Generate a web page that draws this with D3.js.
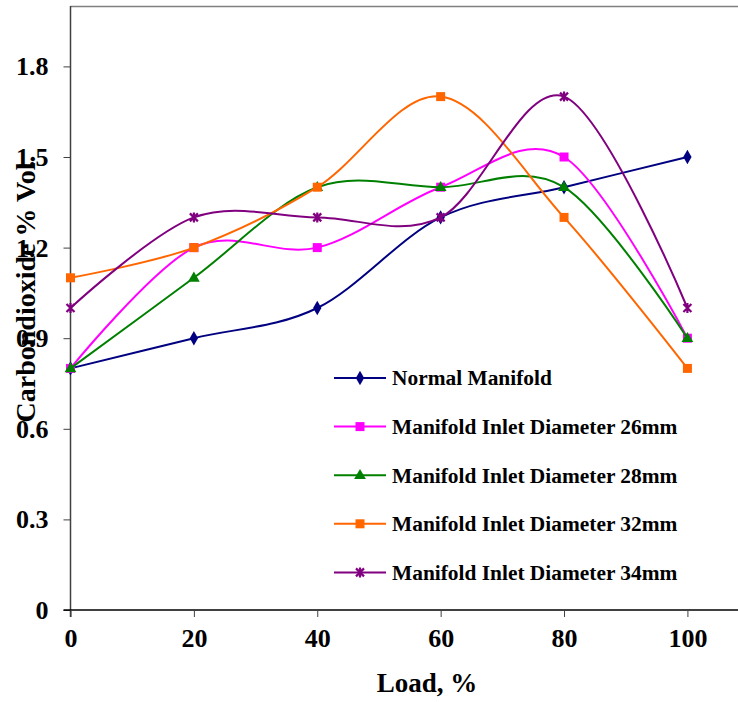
<!DOCTYPE html>
<html>
<head>
<meta charset="utf-8">
<script src="https://cdn.jsdelivr.net/npm/d3@7"></script>
<style>
  html, body { margin: 0; padding: 0; background: #fff; }
  svg { display: block; }
  text { font-family: "Liberation Serif", "DejaVu Serif", serif; font-weight: bold; fill: #000; }
</style>
</head>
<body>
<svg id="chart" width="738" height="702"></svg>
<script>
// Engine load (%) and CO2 emission (% Vol.) for each manifold design
const loads = [0, 20, 40, 60, 80, 100];
const normalManifold = [0.8, 0.9, 1.0, 1.3, 1.4, 1.5];
const inlet26mm = [0.8, 1.2, 1.2, 1.4, 1.5, 0.9];
const inlet28mm = [0.8, 1.1, 1.4, 1.4, 1.4, 0.9];
const inlet32mm = [1.1, 1.2, 1.4, 1.7, 1.3, 0.8];
const inlet34mm = [1.0, 1.3, 1.3, 1.3, 1.7, 1.0];
const xTicks = [0, 20, 40, 60, 80, 100];
const yTicks = [0, 0.3, 0.6, 0.9, 1.2, 1.5, 1.8];
const seriesNames = [
  "Normal Manifold",
  "Manifold Inlet Diameter 26mm",
  "Manifold Inlet Diameter 28mm",
  "Manifold Inlet Diameter 32mm",
  "Manifold Inlet Diameter 34mm"
];

const series = [
  { name: seriesNames[0], values: normalManifold, color: "#000080", marker: "diamond" },
  { name: seriesNames[1], values: inlet26mm, color: "#FF00FF", marker: "square" },
  { name: seriesNames[2], values: inlet28mm, color: "#008000", marker: "triangle" },
  { name: seriesNames[3], values: inlet32mm, color: "#FF6600", marker: "square" },
  { name: seriesNames[4], values: inlet34mm, color: "#800080", marker: "star" }
];

const svg = d3.select("#chart");
const plot = { left: 70.5, right: 738, top: 6, bottom: 610 };

const x = d3.scaleLinear().domain([0, 108.2]).range([plot.left, plot.right]);
const y = d3.scaleLinear().domain([0, 2.0]).range([plot.bottom, plot.top]);

// Plot frame: top border
svg.append("line")
  .attr("x1", plot.left).attr("x2", plot.right)
  .attr("y1", plot.top + 0.5).attr("y2", plot.top + 0.5)
  .attr("stroke", "#808080").attr("stroke-width", 1.5);

// Y axis
const yAxis = d3.axisLeft(y).tickValues(yTicks).tickSize(7).tickPadding(15)
  .tickFormat(d => d === 0 ? "0" : d3.format(".1f")(d));
const gy = svg.append("g").attr("transform", `translate(${plot.left},0)`).call(yAxis);
gy.select(".domain").attr("stroke", "#404040").attr("stroke-width", 1.5)
  .attr("d", `M0,${plot.top}V${plot.bottom + 7}`);
gy.selectAll(".tick line").attr("stroke", "#404040");
gy.selectAll(".tick text").attr("font-size", 26).attr("font-family", "Liberation Serif, serif")
  .attr("font-weight", "bold").attr("dy", "0.33em");

// X axis
const xAxis = d3.axisBottom(x).tickValues(xTicks).tickSize(7).tickPadding(14);
const gx = svg.append("g").attr("transform", `translate(0,${plot.bottom})`).call(xAxis);
gx.select(".domain").attr("stroke", "#000").attr("stroke-width", 1.5)
  .attr("d", `M${plot.left - 7},0H${plot.right}`);
gx.selectAll(".tick line").attr("stroke", "#404040");
gx.selectAll(".tick text").attr("font-size", 26).attr("font-family", "Liberation Serif, serif")
  .attr("font-weight", "bold").attr("dy", "0.62em");

// Axis titles
svg.append("text")
  .attr("x", 427).attr("y", 692)
  .attr("text-anchor", "middle").attr("font-size", 27)
  .text("Load, %");

svg.append("text")
  .attr("transform", `translate(35,${289}) rotate(-90)`)
  .attr("text-anchor", "middle").attr("font-size", 28)
  .text("Carbondioxide % Vol.");

// Marker drawing
function drawMarker(g, type, color, cx, cy) {
  if (type === "diamond") {
    g.append("path").attr("d", d3.symbol(d3.symbolDiamond, 60)())
      .attr("transform", `translate(${cx},${cy})`).attr("fill", color);
  } else if (type === "square") {
    g.append("rect").attr("x", cx - 4.5).attr("y", cy - 4.5)
      .attr("width", 9).attr("height", 9).attr("fill", color);
  } else if (type === "triangle") {
    g.append("path").attr("d", d3.symbol(d3.symbolTriangle, 60)())
      .attr("transform", `translate(${cx},${cy + 0.5})`).attr("fill", color);
  } else if (type === "star") {
    const s = 4;
    g.append("path")
      .attr("d", `M${cx - s},${cy - s}L${cx + s},${cy + s}M${cx - s},${cy + s}L${cx + s},${cy - s}M${cx},${cy - s - 1}L${cx},${cy + s + 1}`)
      .attr("stroke", color).attr("stroke-width", 2.2).attr("fill", "none");
  }
}

// Smoothed series lines
const line = d3.line()
  .x((d, i) => x(loads[i]))
  .y(d => y(d))
  .curve(d3.curveCardinal.tension(0));

series.forEach(s => {
  const g = svg.append("g");
  g.append("path")
    .attr("d", line(s.values))
    .attr("fill", "none").attr("stroke", s.color).attr("stroke-width", 2);
  s.values.forEach((v, i) => drawMarker(g, s.marker, s.color, x(loads[i]), y(v)));
});

// Legend
const legendTop = 378, legendStep = 48.6;
series.forEach((s, i) => {
  const ly = legendTop + i * legendStep;
  const g = svg.append("g");
  g.append("line").attr("x1", 334).attr("x2", 386).attr("y1", ly).attr("y2", ly)
    .attr("stroke", s.color).attr("stroke-width", 2);
  drawMarker(g, s.marker, s.color, 360, ly);
  g.append("text").attr("x", 392).attr("y", ly).attr("dy", "0.35em")
    .attr("font-size", 21.4).text(s.name);
});
</script>
</body>
</html>
